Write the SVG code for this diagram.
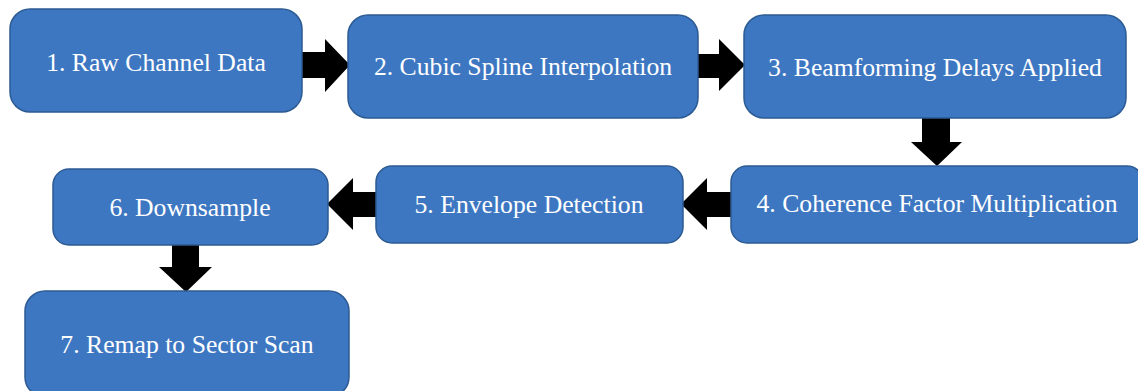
<svg xmlns="http://www.w3.org/2000/svg" width="1138" height="391" viewBox="0 0 1138 391">
  <style>
    .box { fill: #3d77c2; stroke: #2d5b93; stroke-width: 1.5; }
    .label { fill: #ffffff; font-size: 25.7px; text-anchor: middle; }
    .arrow { fill: #000000; }
  </style>
  <rect width="1138" height="391" fill="#ffffff"/>

  <!-- connectors: block arrows between process steps -->
  <g id="connectors">
    <polygon class="arrow" points="300,52 325,52 325,39 350,65 325,92 325,78 300,78"/>
    <polygon class="arrow" points="697,54 719,54 719,39 745,65 719,91 719,78 697,78"/>
    <polygon class="arrow" points="922,117 950,117 950,142 962,142 937,166 911,142 922,142"/>
    <polygon class="arrow" points="732,192 707,192 707,178 681,204 707,230 707,217 732,217"/>
    <polygon class="arrow" points="377,192 353,192 353,178 327,204 353,230 353,217 377,217"/>
    <polygon class="arrow" points="172,244 199,244 199,267 212,267 186,292 159,267 172,267"/>
  </g>

  <g id="nodes" font-family="'Liberation Serif', 'DejaVu Serif', serif">
    <g id="step1">
      <rect class="box" x="10" y="9" width="292" height="103" rx="20"/>
      <text class="label" x="156" y="71">1. Raw Channel Data</text>
    </g>
    <g id="step2">
      <rect class="box" x="348" y="15" width="350" height="103" rx="20"/>
      <text class="label" x="523" y="75">2. Cubic Spline Interpolation</text>
    </g>
    <g id="step3">
      <rect class="box" x="744" y="15" width="382" height="103" rx="20"/>
      <text class="label" x="935" y="76">3. Beamforming Delays Applied</text>
    </g>
    <g id="step4">
      <rect class="box" x="731" y="166" width="412" height="77" rx="16"/>
      <text class="label" x="937" y="212">4. Coherence Factor Multiplication</text>
    </g>
    <g id="step5">
      <rect class="box" x="376" y="166" width="307" height="77" rx="16"/>
      <text class="label" x="529" y="213">5. Envelope Detection</text>
    </g>
    <g id="step6">
      <rect class="box" x="53" y="169" width="275" height="76" rx="16"/>
      <text class="label" x="190" y="216">6. Downsample</text>
    </g>
    <g id="step7">
      <rect class="box" x="25" y="291" width="324" height="106" rx="20"/>
      <text class="label" x="187" y="353">7. Remap to Sector Scan</text>
    </g>
  </g>
</svg>
